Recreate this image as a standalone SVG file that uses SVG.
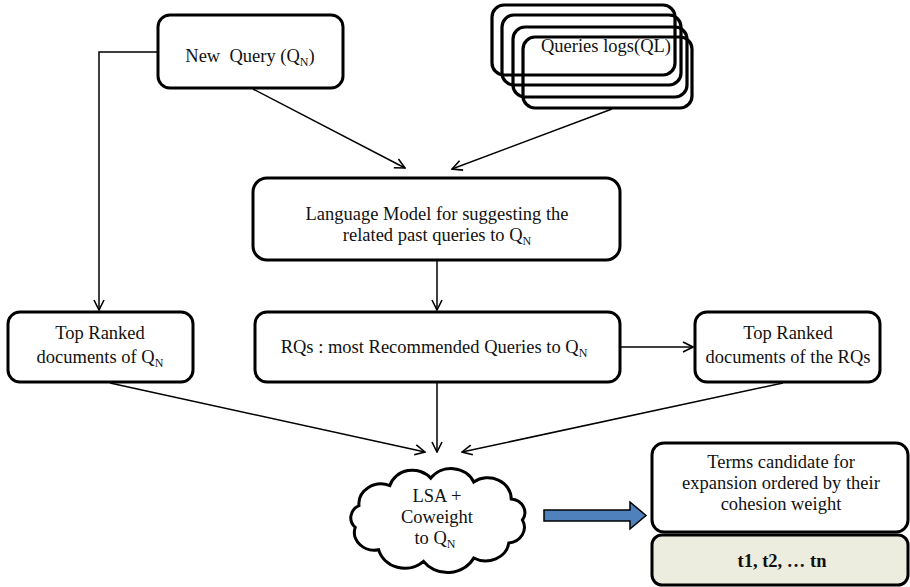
<svg xmlns="http://www.w3.org/2000/svg" width="910" height="587" viewBox="0 0 910 587">
<defs>
<style>
.box{fill:#fff;stroke:#000;stroke-width:3}
.ql{fill:none;stroke:#000;stroke-width:3.2}
.t{font-family:'Liberation Serif','DejaVu Serif',serif;font-size:18.5px;fill:#111;text-anchor:middle}
.sub{font-size:12px}
.c{fill:none;stroke:#000;stroke-width:1.5}
</style>
<marker id="ah" viewBox="0 0 12 12" refX="11" refY="6" markerWidth="12" markerHeight="12" markerUnits="userSpaceOnUse" orient="auto">
<path d="M1,1 L11,6 L1,11" fill="none" stroke="#000" stroke-width="1.6"/>
</marker>
</defs>
<rect width="910" height="587" fill="#fff"/>

<g id="connectors">
<polyline class="c" points="158,52 99,52 99,310" marker-end="url(#ah)"/>
<line class="c" x1="253" y1="89" x2="405" y2="168" marker-end="url(#ah)"/>
<line class="c" x1="612" y1="109" x2="452" y2="169" marker-end="url(#ah)"/>
<line class="c" x1="437" y1="260" x2="437" y2="310" marker-end="url(#ah)"/>
<line class="c" x1="620" y1="347" x2="693" y2="347" marker-end="url(#ah)"/>
<line class="c" x1="110" y1="383" x2="425" y2="452" marker-end="url(#ah)"/>
<line class="c" x1="437" y1="383" x2="437" y2="452" marker-end="url(#ah)"/>
<line class="c" x1="783" y1="383" x2="462" y2="452" marker-end="url(#ah)"/>
<polygon points="544,510 630,510 630,502 646,515.5 630,529 630,521 544,521" fill="#4F81BD" stroke="#000" stroke-width="1.5"/>
</g>

<g id="new-query">
<rect class="box" x="158" y="15" width="185" height="73" rx="12"/>
<text class="t" x="250" y="62" xml:space="preserve">New  Query (Q<tspan class="sub" dy="4">N</tspan><tspan dy="-4">)</tspan></text>
</g>

<g id="queries-logs">
<rect class="ql" x="492" y="5" width="183" height="70" rx="12"/>
<rect class="ql" x="502" y="15" width="179" height="70" rx="12"/>
<rect class="ql" x="513" y="27" width="174" height="70" rx="12"/>
<rect class="ql" x="523" y="37" width="169" height="71" rx="12"/>
<text class="t" x="606" y="52">Queries logs(QL)</text>
</g>

<g id="language-model">
<rect class="box" x="253" y="178" width="367" height="82" rx="14"/>
<text class="t" x="437" y="220">Language Model for suggesting the</text>
<text class="t" x="437" y="241">related past queries to Q<tspan class="sub" dy="4">N</tspan></text>
</g>

<g id="top-ranked-qn">
<rect class="box" x="8" y="312" width="185" height="70" rx="12"/>
<text class="t" x="100" y="339">Top Ranked</text>
<text class="t" x="100" y="363">documents of Q<tspan class="sub" dy="4">N</tspan></text>
</g>

<g id="rqs">
<rect class="box" x="255" y="312" width="365" height="70" rx="12"/>
<text class="t" x="434" y="353">RQs : most Recommended Queries to Q<tspan class="sub" dy="4">N</tspan></text>
</g>

<g id="top-ranked-rqs">
<rect class="box" x="695" y="312" width="185" height="70" rx="12"/>
<text class="t" x="788" y="339">Top Ranked</text>
<text class="t" x="788" y="363">documents of the RQs</text>
</g>

<g id="lsa-cloud">
<path transform="translate(437 520) scale(1.17 1.05) translate(-437 -520)" vector-effect="non-scaling-stroke" fill="#fff" stroke="#000" stroke-width="3" d="M510,520 A15,15 0 0 1 498.4,541.8 A20,20 0 0 1 468.4,556.2 A25,25 0 0 1 425.5,559.4 A23,23 0 0 1 387.1,548.3 A17,17 0 0 1 367.1,527 A13,13 0 0 1 370.3,506.3 A19,19 0 0 1 396.7,487.2 A20,20 0 0 1 431.7,480.2 A21,21 0 0 1 468.4,483.8 A20,20 0 0 1 500.4,500 A13,13 0 0 1 510,520 Z"/>
<text class="t" x="437" y="502">LSA +</text>
<text class="t" x="437" y="523">Coweight</text>
<text class="t" x="435" y="544">to Q<tspan class="sub" dy="4">N</tspan></text>
</g>

<g id="terms">
<rect class="box" x="652" y="443" width="256" height="89" rx="12"/>
<text class="t" x="781" y="468">Terms candidate for</text>
<text class="t" x="781" y="489">expansion ordered by their</text>
<text class="t" x="781" y="510">cohesion weight</text>
</g>

<g id="terms-list">
<rect class="box" x="652" y="535" width="256" height="50" rx="10" style="fill:#ECECDF"/>
<text class="t" x="782" y="567" style="font-weight:bold">t1, t2, … tn</text>
</g>
</svg>
